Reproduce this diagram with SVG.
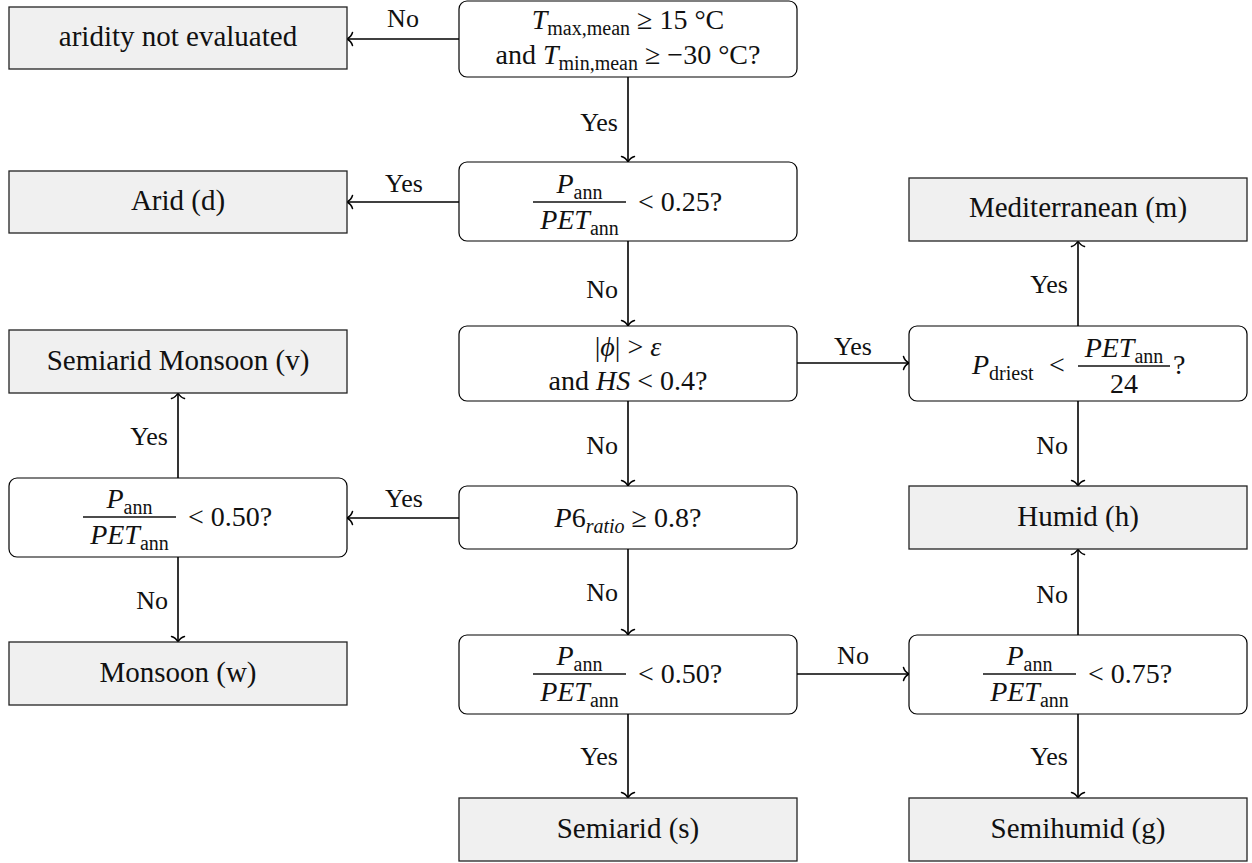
<svg xmlns="http://www.w3.org/2000/svg" width="1252" height="863" viewBox="0 0 1252 863" font-family="'Liberation Serif', 'DejaVu Serif', serif">
<style>
.gray{fill:#f0f0f0;stroke:#222;stroke-width:1.3}
.dec{fill:#fff;stroke:#000;stroke-width:1.2}
text{font-family:'Liberation Serif','DejaVu Serif',serif;fill:#111}
.t{font-size:29px;text-anchor:middle}
.m{font-size:28px}
.mid{text-anchor:middle}
.end{text-anchor:end}
.i{font-style:italic}
.s{font-size:20px}
.lbl{font-size:26px}
.c{stroke:#000;stroke-width:1.6;fill:none;marker-end:url(#arr)}
.bar{stroke:#111;stroke-width:1.3}
</style>
<defs>
<marker id="arr" viewBox="-8 -8 10 16" markerWidth="10" markerHeight="16" refX="0" refY="0" orient="auto" markerUnits="userSpaceOnUse">
<path d="M -5.5,-6.5 C -4.5,-3 -1.5,-0.8 0,0 C -1.5,0.8 -4.5,3 -5.5,6.5" fill="none" stroke="#000" stroke-width="1.5" stroke-linecap="round"/>
</marker>
</defs>

<g id="connectors">
<line class="c" x1="459" y1="39" x2="347" y2="39"/>
<line class="c" x1="628" y1="77" x2="628" y2="162"/>
<line class="c" x1="459" y1="202" x2="347" y2="202"/>
<line class="c" x1="628" y1="241" x2="628" y2="326"/>
<line class="c" x1="797" y1="363" x2="909" y2="363"/>
<line class="c" x1="1078" y1="326" x2="1078" y2="241"/>
<line class="c" x1="1078" y1="401" x2="1078" y2="486"/>
<line class="c" x1="628" y1="401" x2="628" y2="486"/>
<line class="c" x1="459" y1="518" x2="347" y2="518"/>
<line class="c" x1="178" y1="478" x2="178" y2="393"/>
<line class="c" x1="178" y1="557" x2="178" y2="642"/>
<line class="c" x1="628" y1="549" x2="628" y2="635"/>
<line class="c" x1="797" y1="674" x2="909" y2="674"/>
<line class="c" x1="1078" y1="635" x2="1078" y2="549"/>
<line class="c" x1="628" y1="714" x2="628" y2="798"/>
<line class="c" x1="1078" y1="714" x2="1078" y2="798"/>
<text class="lbl mid" x="403" y="27">No</text>
<text class="lbl end" x="618" y="131">Yes</text>
<text class="lbl mid" x="404" y="192">Yes</text>
<text class="lbl end" x="618" y="298">No</text>
<text class="lbl mid" x="853" y="355">Yes</text>
<text class="lbl end" x="1068" y="293">Yes</text>
<text class="lbl end" x="1068" y="454">No</text>
<text class="lbl end" x="618" y="454">No</text>
<text class="lbl mid" x="404" y="507">Yes</text>
<text class="lbl end" x="168" y="445">Yes</text>
<text class="lbl end" x="168" y="609">No</text>
<text class="lbl end" x="618" y="601">No</text>
<text class="lbl mid" x="853" y="664">No</text>
<text class="lbl end" x="1068" y="603">No</text>
<text class="lbl end" x="618" y="765">Yes</text>
<text class="lbl end" x="1068" y="765">Yes</text>
</g>

<g id="n-aridity">
<rect class="gray" x="9" y="7" width="338" height="62"/>
<text class="t" x="178" y="46">aridity not evaluated</text>
</g>

<g id="q-temp">
<rect class="dec" x="459" y="1" width="338" height="76" rx="8"/>
<text class="m mid" x="628" y="29"><tspan class="i">T</tspan><tspan class="s" dy="6">max,mean</tspan><tspan dy="-6"> ≥ 15 °C</tspan></text>
<text class="m mid" x="628" y="64">and <tspan class="i">T</tspan><tspan class="s" dy="6">min,mean</tspan><tspan dy="-6"> ≥ −30 °C?</tspan></text>
</g>

<g id="n-arid">
<rect class="gray" x="9" y="171" width="338" height="62"/>
<text class="t" x="178" y="210">Arid (d)</text>
</g>

<g id="q-ratio025">
<rect class="dec" x="459" y="162" width="338" height="79" rx="8"/>
<text class="m mid" x="579.5" y="193"><tspan class="i">P</tspan><tspan class="s" dy="6">ann</tspan></text>
<line class="bar" x1="533" y1="202" x2="626" y2="202"/>
<text class="m mid" x="579.5" y="229"><tspan class="i">PET</tspan><tspan class="s" dy="6">ann</tspan></text>
<text class="m" x="638" y="211">&lt; 0.25?</text>
</g>

<g id="n-med">
<rect class="gray" x="909" y="178" width="338" height="63"/>
<text class="t" x="1078" y="217">Mediterranean (m)</text>
</g>

<g id="q-lat">
<rect class="dec" x="459" y="326" width="338" height="75" rx="8"/>
<text class="m mid" x="628" y="356">|<tspan class="i">ϕ</tspan>| &gt; <tspan class="i">ε</tspan></text>
<text class="m mid" x="628" y="390">and <tspan class="i">HS</tspan> &lt; 0.4?</text>
</g>

<g id="q-driest">
<rect class="dec" x="909" y="326" width="338" height="75" rx="8"/>
<text class="m" x="972" y="374"><tspan class="i">P</tspan><tspan class="s" dy="6">driest</tspan></text>
<text class="m" x="1049" y="374">&lt;</text>
<text class="m mid" x="1124" y="357"><tspan class="i">PET</tspan><tspan class="s" dy="6">ann</tspan></text>
<line class="bar" x1="1078" y1="366" x2="1170" y2="366"/>
<text class="m mid" x="1124" y="393">24</text>
<text class="m" x="1173" y="374">?</text>
</g>

<g id="n-semiarid-monsoon">
<rect class="gray" x="9" y="330" width="338" height="63"/>
<text class="t" x="178" y="370">Semiarid Monsoon (v)</text>
</g>

<g id="q-p6">
<rect class="dec" x="459" y="486" width="338" height="63" rx="8"/>
<text class="m mid" x="628" y="527"><tspan class="i">P</tspan>6<tspan class="s i" dy="6">ratio</tspan><tspan dy="-6"> ≥ 0.8?</tspan></text>
</g>

<g id="n-humid">
<rect class="gray" x="909" y="486" width="338" height="63"/>
<text class="t" x="1078" y="526">Humid (h)</text>
</g>

<g id="q-ratio050-left">
<rect class="dec" x="9" y="478" width="338" height="79" rx="8"/>
<text class="m mid" x="129.5" y="508"><tspan class="i">P</tspan><tspan class="s" dy="6">ann</tspan></text>
<line class="bar" x1="83" y1="517" x2="176" y2="517"/>
<text class="m mid" x="129.5" y="544"><tspan class="i">PET</tspan><tspan class="s" dy="6">ann</tspan></text>
<text class="m" x="188" y="526">&lt; 0.50?</text>
</g>

<g id="n-monsoon">
<rect class="gray" x="9" y="642" width="338" height="63"/>
<text class="t" x="178" y="682">Monsoon (w)</text>
</g>

<g id="q-ratio050">
<rect class="dec" x="459" y="635" width="338" height="79" rx="8"/>
<text class="m mid" x="579.5" y="665"><tspan class="i">P</tspan><tspan class="s" dy="6">ann</tspan></text>
<line class="bar" x1="533" y1="674" x2="626" y2="674"/>
<text class="m mid" x="579.5" y="701"><tspan class="i">PET</tspan><tspan class="s" dy="6">ann</tspan></text>
<text class="m" x="638" y="683">&lt; 0.50?</text>
</g>

<g id="q-ratio075">
<rect class="dec" x="909" y="635" width="338" height="79" rx="8"/>
<text class="m mid" x="1029.5" y="665"><tspan class="i">P</tspan><tspan class="s" dy="6">ann</tspan></text>
<line class="bar" x1="983" y1="674" x2="1076" y2="674"/>
<text class="m mid" x="1029.5" y="701"><tspan class="i">PET</tspan><tspan class="s" dy="6">ann</tspan></text>
<text class="m" x="1088" y="683">&lt; 0.75?</text>
</g>

<g id="n-semiarid">
<rect class="gray" x="459" y="798" width="338" height="63"/>
<text class="t" x="628" y="838">Semiarid (s)</text>
</g>

<g id="n-semihumid">
<rect class="gray" x="909" y="798" width="338" height="63"/>
<text class="t" x="1078" y="838">Semihumid (g)</text>
</g>
</svg>
